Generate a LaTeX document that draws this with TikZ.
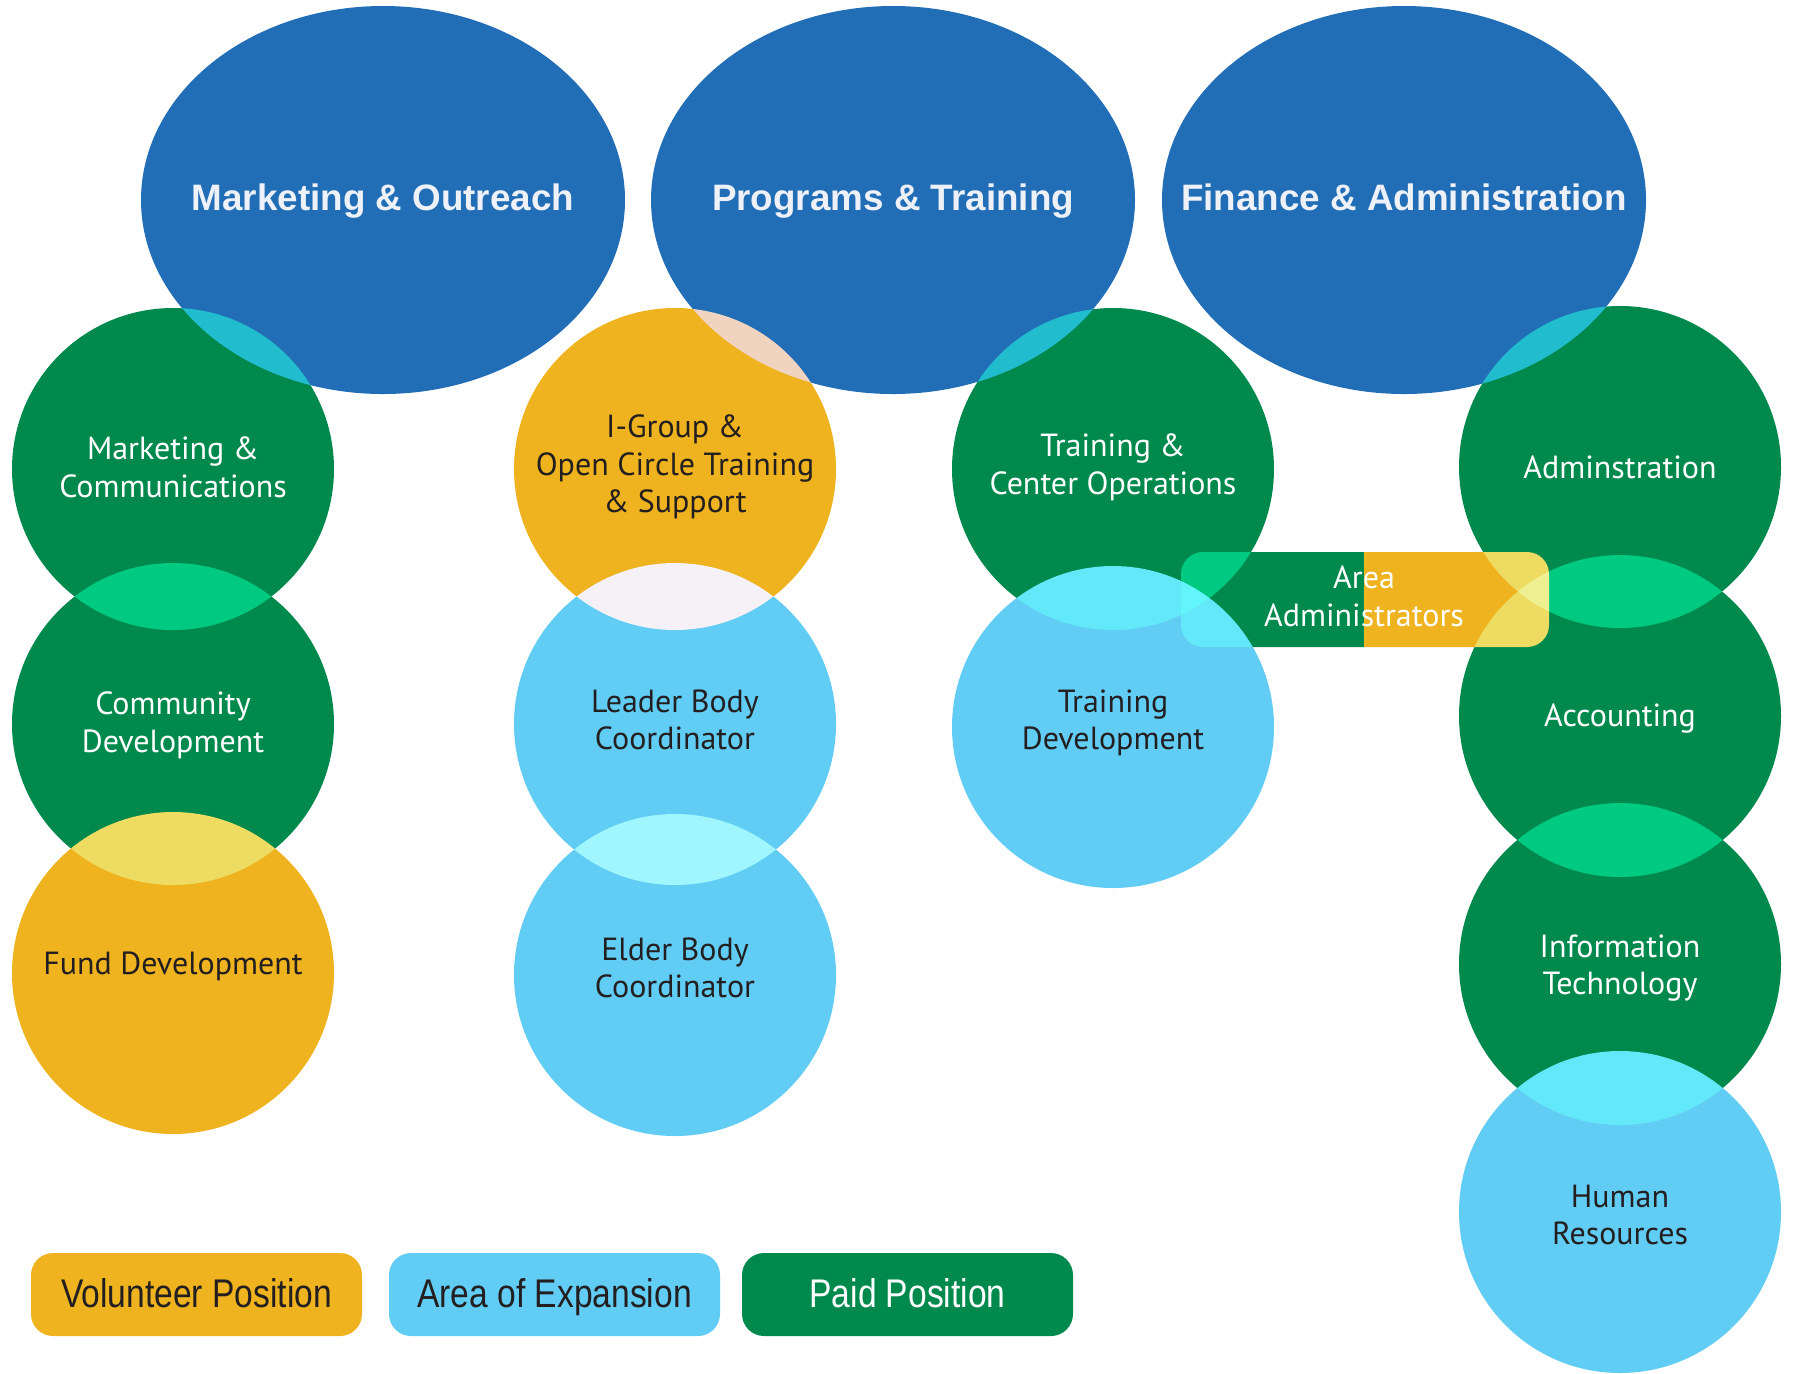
\documentclass[tikz,border=0pt]{standalone}
\usepackage{fontspec}
\setmainfont{PT Sans}
\newfontfamily\titlefont{Liberation Sans}
\newfontfamily\legendfont[FakeStretch=0.84]{Liberation Sans}
\usetikzlibrary{shapes.geometric}
\definecolor{cblue}{RGB}{33,110,183}
\definecolor{cgreen}{RGB}{0,137,76}
\definecolor{corange}{RGB}{238,179,30}
\definecolor{clight}{RGB}{98,205,244}
\definecolor{cdark}{RGB}{35,31,32}
\definecolor{ctitle}{RGB}{238,241,247}
\tikzset{
 bubble/.style={circle, minimum size=161pt, inner sep=0pt, fill=#1},
 dept/.style={ellipse, minimum width=242pt, minimum height=194pt, inner sep=0pt, fill=cblue},
 title/.style={anchor=base, text=ctitle, font=\titlefont\bfseries\fontsize{18.4}{22}\selectfont},
 lab/.style={align=center, inner sep=0pt, font=\fontsize{16}{18.8}\selectfont, text=#1},
 legendbox/.style={rounded corners=11pt, minimum width=165.5pt, minimum height=41.5pt, inner sep=0pt, text height=17pt, text depth=4pt, fill=#1, font=\legendfont\fontsize{20}{24}\selectfont},
}
\begin{document}
\begin{tikzpicture}[x=0.5pt,y=0.5pt]
\useasboundingbox (0,0) rectangle (1793,-1373);
\begin{scope}[blend group=screen]
 \node[dept] (mo) at (383,-200) {};
 \node[dept] (pt) at (893,-200) {};
 \node[dept] (fa) at (1404,-200) {};
 % column 1
 \node[bubble=cgreen] (c1a) at (173,-469) {};
 \node[bubble=cgreen] (c1b) at (173,-724) {};
 \node[bubble=corange] (c1c) at (173,-973) {};
 % column 2
 \node[bubble=corange] (c2a) at (675,-469) {};
 \node[bubble=clight] (c2b) at (675,-724) {};
 \node[bubble=clight] (c2c) at (675,-975) {};
 % column 3
 \node[bubble=cgreen] (c3a) at (1113,-469) {};
 \node[bubble=clight] (c3b) at (1113,-727) {};
 % column 4
 \node[bubble=cgreen] (c4a) at (1620,-467) {};
 \node[bubble=cgreen] (c4b) at (1620,-716) {};
 \node[bubble=cgreen] (c4c) at (1620,-964) {};
 \node[bubble=clight] (c4d) at (1620,-1212) {};
 % area administrators bar
 \fill[cgreen] (1364,-552) -- (1203,-552) arc[start angle=90,end angle=180,radius=22] -- (1181,-625) arc[start angle=180,end angle=270,radius=22] -- (1364,-647) -- cycle;
 \fill[corange] (1364,-552) -- (1527,-552) arc[start angle=90,end angle=0,radius=22] -- (1549,-625) arc[start angle=0,end angle=-90,radius=22] -- (1364,-647) -- cycle;
\end{scope}
% titles
\node[title] (tmo) at (383,-210) {Marketing \& Outreach};
\node[title] (tpt) at (893,-210) {Programs \& Training};
\node[title] (tfa) at (1404,-210) {Finance \& Administration};
% labels
\node[lab=white] (l1a) at (173,-467) {Marketing \&\\Communications};
\node[lab=white] (l1b) at (173,-725) {Community\\Development};
\node[lab=cdark] (l1c) at (173,-966) {Fund Development};
\node[lab=cdark] (l2a) at (675,-467) {I-Group \&\\Open Circle Training\\\& Support};
\node[lab=cdark] (l2b) at (675,-720) {Leader Body\\Coordinator};
\node[lab=cdark] (l2c) at (675,-968) {Elder Body\\Coordinator};
\node[lab=white] (l3a) at (1113,-467) {Training \&\\Center Operations};
\node[lab=cdark] (l3b) at (1113,-723) {Training\\Development};
\node[lab=white] (l4a) at (1620,-467) {Adminstration};
\node[lab=white] (l4b) at (1620,-718) {Accounting};
\node[lab=white] (l4c) at (1620,-968) {Information\\Technology};
\node[lab=cdark] (l4d) at (1620,-1215) {Human\\Resources};
\node[lab=white] (laa) at (1364,-596) {Area\\Administrators};
% legend
\node[legendbox=corange, text=cdark] (lv) at (196.5,-1294.5) {Volunteer Position};
\node[legendbox=clight, text=cdark] (le) at (554.5,-1294.5) {Area of Expansion};
\node[legendbox=cgreen, text=white] (lp) at (907.5,-1294.5) {Paid Position};
\end{tikzpicture}
\end{document}
